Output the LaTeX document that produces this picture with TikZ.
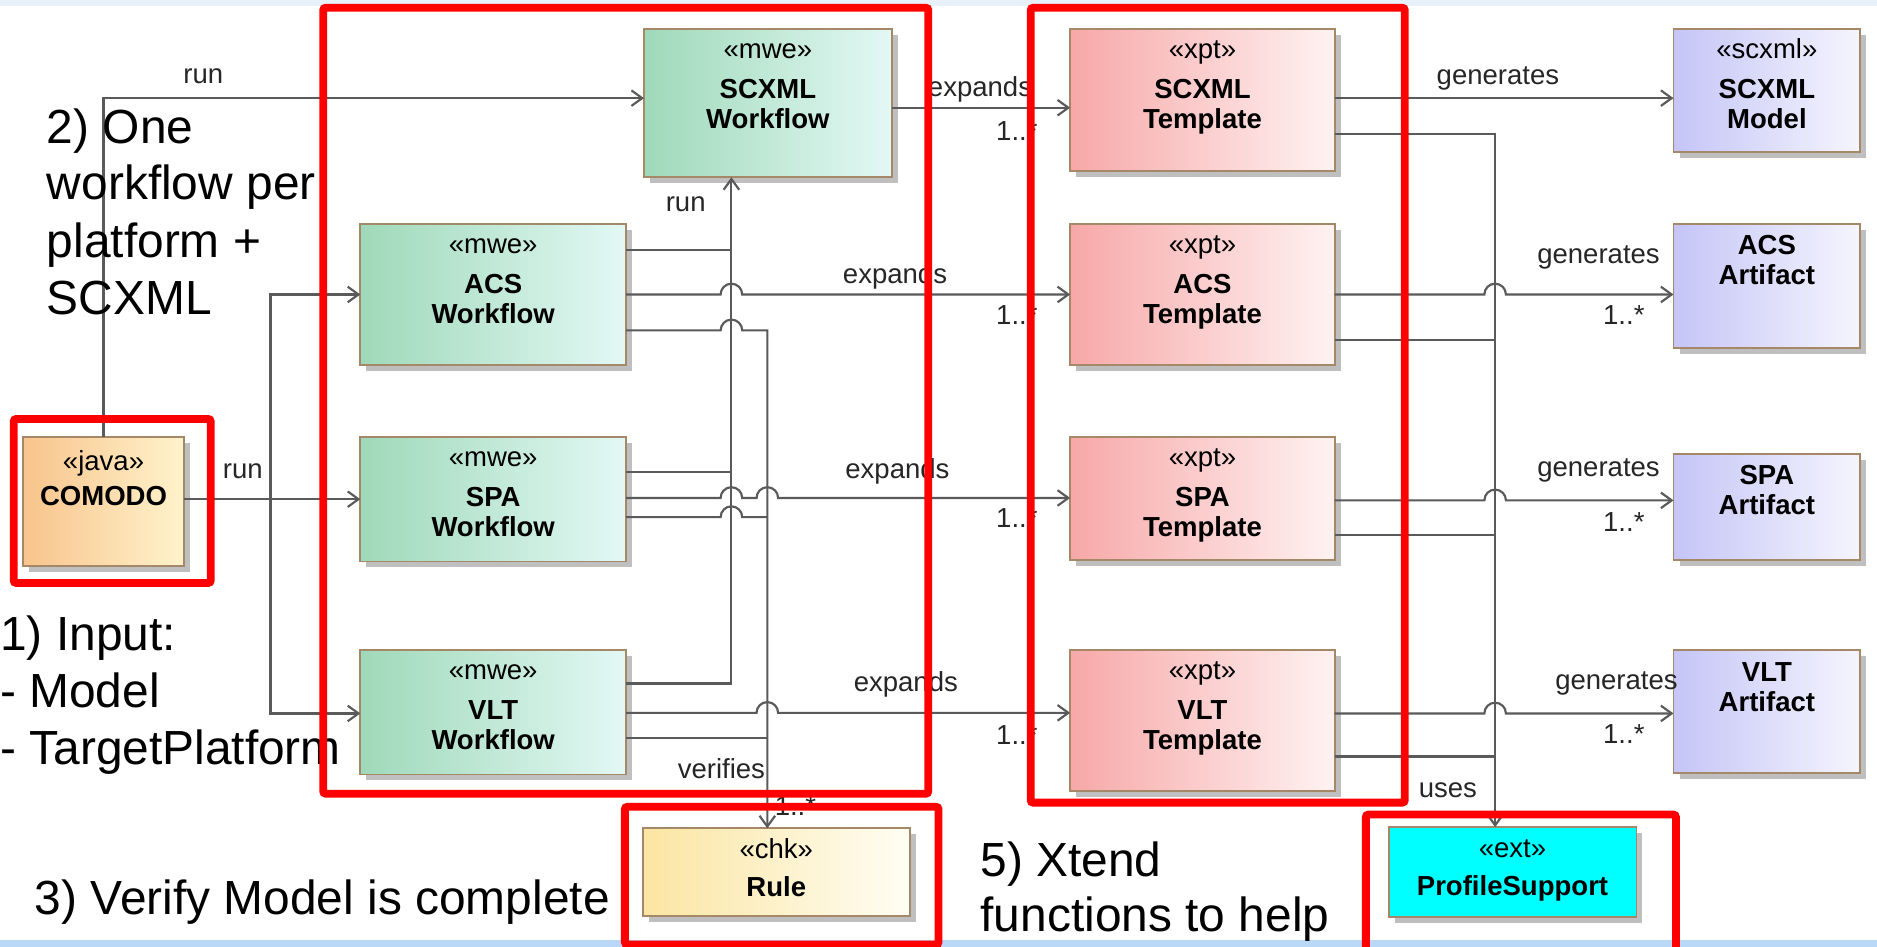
\documentclass[tikz,border=0pt]{standalone}
\usepackage{fontspec}
\setmainfont{Liberation Sans}
\usetikzlibrary{arrows.meta,shadows}

% fills of the element kinds
\definecolor{wfL}{HTML}{9FD9B9}
\definecolor{wfR}{HTML}{E3F8F5}
\definecolor{tpL}{HTML}{F7A8A8}
\definecolor{tpR}{HTML}{FFF2F2}
\definecolor{arL}{HTML}{C5C5F7}
\definecolor{arR}{HTML}{F5F5FE}
\definecolor{jvL}{HTML}{F8C48C}
\definecolor{jvR}{HTML}{FFF3CC}
\definecolor{ckL}{HTML}{FBE5A2}
\definecolor{ckR}{HTML}{FFFEF4}
\definecolor{psfill}{HTML}{00FFFF}
\definecolor{boxedge}{HTML}{A58868}
\definecolor{conncol}{HTML}{5A5A5A}
\definecolor{bandtop}{HTML}{E8F0FA}
\definecolor{bandbot}{HTML}{B9D8F7}
\definecolor{hilite}{HTML}{FF0000}

\tikzset{
  umlbox/.style={rectangle, draw=boxedge, line width=1.5pt, inner sep=0pt, outer sep=0pt,
    drop shadow={shadow xshift=5pt, shadow yshift=-5pt, fill=black, opacity=0.25}},
  wfbox/.style={left color=wfL, right color=wfR},
  tpbox/.style={left color=tpL, right color=tpR},
  arbox/.style={left color=arL, right color=arR},
  jvbox/.style={left color=jvL, right color=jvR},
  ckbox/.style={left color=ckL, right color=ckR},
  psbox/.style={fill=psfill},
  stereo/.style={font=\fontsize{23}{25}\selectfont, inner sep=0pt, anchor=base},
  uname/.style={font=\fontsize{23}{25}\selectfont\bfseries, inner sep=0pt, anchor=base},
  elabel/.style={font=\fontsize{23}{25}\selectfont, inner sep=0pt, anchor=base west, text=black!85},
  note/.style={font=\fontsize{40}{48}\selectfont, inner sep=0pt, anchor=base west},
  conn/.style={draw=conncol, line width=1.8pt},
  arr/.style={conn, -{Straight Barb[length=9pt,width=13pt]}},
  redbox/.style={draw=hilite, line width=6.5pt, rounded corners=2pt},
}

% box: name, left, top, right, bottom, kind
\newcommand{\umlbox}[6]{%
  \node[umlbox, #6, minimum width={(#4)-(#2)}, minimum height={(#5)-(#3)}]
    (#1) at ({((#2)+(#4))/2},{((#3)+(#5))/2}) {};}
% text line inside a box: box, tag, offset of baseline from top, style, text
\newcommand{\boxline}[5]{%
  \node[#4] (#1-#2) at ([yshift=-#3pt]#1.north) {#5};}

\begin{document}
\begin{tikzpicture}[x=1pt, y=-1pt]
\useasboundingbox (0,0) rectangle (1568,791);
\clip (0,0) rectangle (1568,791);

% slide background
\fill[white] (0,0) rectangle (1568,791);
\fill[bandtop] (0,0) rectangle (1568,5);
\fill[bandbot] (0,785) rectangle (1568,791);

% ---------- elements ----------
\umlbox{scxmlwf}{538}{24}{745}{148}{wfbox}
\umlbox{acswf}{301}{187}{523}{305}{wfbox}
\umlbox{spawf}{301}{365}{523}{469}{wfbox}
\umlbox{vltwf}{301}{543}{523}{647}{wfbox}
\umlbox{comodo}{19}{365}{154}{473}{jvbox}
\umlbox{rule}{537}{692}{760}{765}{ckbox}
\umlbox{scxmlt}{894}{24}{1115}{143}{tpbox}
\umlbox{acst}{894}{187}{1115}{305}{tpbox}
\umlbox{spat}{894}{365}{1115}{468}{tpbox}
\umlbox{vltt}{894}{543}{1115}{661}{tpbox}
\umlbox{scxmlm}{1398}{24}{1554}{127}{arbox}
\umlbox{acsa}{1398}{187}{1554}{291}{arbox}
\umlbox{spaa}{1398}{379}{1554}{468}{arbox}
\umlbox{vlta}{1398}{543}{1554}{646}{arbox}
\umlbox{prof}{1160}{691}{1367}{766}{psbox}

% ---------- connectors ----------
% COMODO runs the workflows
\draw[arr] (comodo.north) |- (scxmlwf.west |- 0,82);
\draw[arr] (comodo.east |- 0,417) -- (spawf.west |- 0,417);
\coordinate (fork) at (226,417);
\draw[arr] (fork) |- (acswf.west |- 0,246);
\draw[arr] (fork) |- (vltwf.west |- 0,596);

% platform workflows run the SCXML workflow
\coordinate (runA) at (611,209);
\coordinate (runS) at (611,394);
\draw[arr] (vltwf.east |- 0,571) -| (scxmlwf.south -| 611,0);
\draw[conn] (acswf.east |- 0,209) -- (runA);
\draw[conn] (spawf.east |- 0,394) -- (runS);

% workflows verify the rules
\coordinate (verS) at (641,432);
\coordinate (verV) at (641,616.5);
\draw[arr] (acswf.east |- 0,276) -- (602,276) arc[start angle=180, end angle=360, radius=9]
  -| (rule.north -| 641,0);
\draw[conn] (spawf.east |- 0,432) -- (602,432) arc[start angle=180, end angle=360, radius=9] -- (verS);
\draw[conn] (vltwf.east |- 0,616.5) -- (verV);

% workflows expand the templates
\draw[arr] (scxmlwf.east |- 0,90) -- (scxmlt.west |- 0,90);
\draw[arr] (acswf.east |- 0,246) -- (602,246) arc[start angle=180, end angle=360, radius=9]
  -- (acst.west |- 0,246);
\draw[arr] (spawf.east |- 0,416) -- (602,416) arc[start angle=180, end angle=360, radius=9]
  -- (632,416) arc[start angle=180, end angle=360, radius=9] -- (spat.west |- 0,416);
\draw[arr] (vltwf.east |- 0,595.5) -- (632,595.5) arc[start angle=180, end angle=360, radius=9]
  -- (vltt.west |- 0,595.5);

% templates generate the artifacts
\draw[arr] (scxmlt.east |- 0,82) -- (scxmlm.west |- 0,82);
\draw[arr] (acst.east |- 0,246) -- (1240,246) arc[start angle=180, end angle=360, radius=9]
  -- (acsa.west |- 0,246);
\draw[arr] (spat.east |- 0,418) -- (1240,418) arc[start angle=180, end angle=360, radius=9]
  -- (spaa.west |- 0,418);
\draw[arr] (vltt.east |- 0,596) -- (1240,596) arc[start angle=180, end angle=360, radius=9]
  -- (vlta.west |- 0,596);

% templates use the profile support functions
\coordinate (useA) at (1249,284);
\coordinate (useS) at (1249,447);
\coordinate (useV) at (1249,632);
\draw[arr] (scxmlt.east |- 0,112) -| (prof.north -| 1249,0);
\draw[conn] (acst.east |- 0,284) -- (useA);
\draw[conn] (spat.east |- 0,447) -- (useS);
\draw[conn] (vltt.east |- 0,632) -- (useV);

% ---------- element texts ----------
\boxline{scxmlwf}{s}{25}{stereo}{«mwe»}
\boxline{scxmlwf}{a}{58}{uname}{SCXML}
\boxline{scxmlwf}{b}{83}{uname}{Workflow}
\boxline{acswf}{s}{25}{stereo}{«mwe»}
\boxline{acswf}{a}{58}{uname}{ACS}
\boxline{acswf}{b}{83}{uname}{Workflow}
\boxline{spawf}{s}{25}{stereo}{«mwe»}
\boxline{spawf}{a}{58}{uname}{SPA}
\boxline{spawf}{b}{83}{uname}{Workflow}
\boxline{vltwf}{s}{25}{stereo}{«mwe»}
\boxline{vltwf}{a}{58}{uname}{VLT}
\boxline{vltwf}{b}{83}{uname}{Workflow}
\boxline{comodo}{s}{28}{stereo}{«java»}
\boxline{comodo}{a}{57}{uname}{COMODO}
\boxline{rule}{s}{25}{stereo}{«chk»}
\boxline{rule}{a}{57}{uname}{Rule}
\boxline{scxmlt}{s}{25}{stereo}{«xpt»}
\boxline{scxmlt}{a}{58}{uname}{SCXML}
\boxline{scxmlt}{b}{83}{uname}{Template}
\boxline{acst}{s}{25}{stereo}{«xpt»}
\boxline{acst}{a}{58}{uname}{ACS}
\boxline{acst}{b}{83}{uname}{Template}
\boxline{spat}{s}{25}{stereo}{«xpt»}
\boxline{spat}{a}{58}{uname}{SPA}
\boxline{spat}{b}{83}{uname}{Template}
\boxline{vltt}{s}{25}{stereo}{«xpt»}
\boxline{vltt}{a}{58}{uname}{VLT}
\boxline{vltt}{b}{83}{uname}{Template}
\boxline{scxmlm}{s}{25}{stereo}{«scxml»}
\boxline{scxmlm}{a}{58}{uname}{SCXML}
\boxline{scxmlm}{b}{83}{uname}{Model}
\boxline{acsa}{a}{26}{uname}{ACS}
\boxline{acsa}{b}{51}{uname}{Artifact}
\boxline{spaa}{a}{26}{uname}{SPA}
\boxline{spaa}{b}{51}{uname}{Artifact}
\boxline{vlta}{a}{26}{uname}{VLT}
\boxline{vlta}{b}{51}{uname}{Artifact}
\boxline{prof}{s}{25}{stereo}{«ext»}
\boxline{prof}{a}{57}{uname}{ProfileSupport}

% ---------- connector labels ----------
\node[elabel] (lrun1) at (153,70) {run};
\node[elabel] (lrun2) at (186,400) {run};
\node[elabel] (lrun3) at (556,177) {run};
\node[elabel] (lver) at (566,650) {verifies};
\node[elabel] (lmver) at (647,681) {1..*};
\node[elabel] (lexp1) at (775,81) {expands};
\node[elabel] (lmexp1) at (832,117) {1..*};
\node[elabel] (lexp2) at (704,237) {expands};
\node[elabel] (lmexp2) at (832,271) {1..*};
\node[elabel] (lexp3) at (706,400) {expands};
\node[elabel] (lmexp3) at (832,441) {1..*};
\node[elabel] (lexp4) at (713,578) {expands};
\node[elabel] (lmexp4) at (832,622) {1..*};
\node[elabel] (lgen1) at (1200,71) {generates};
\node[elabel] (lgen2) at (1284,220) {generates};
\node[elabel] (lmgen2) at (1339,271) {1..*};
\node[elabel] (lgen3) at (1284,398) {generates};
\node[elabel] (lmgen3) at (1339,444) {1..*};
\node[elabel] (lgen4) at (1299,576) {generates};
\node[elabel] (lmgen4) at (1339,621) {1..*};
\node[elabel] (luses) at (1185,666) {uses};

% ---------- slide notes ----------
\node[note] (n2a) at (39,120) {2) One};
\node[note] (n2b) at (39,167) {workflow per};
\node[note] (n2c) at (39,215) {platform +};
\node[note] (n2d) at (39,263) {SCXML};
\node[note] (n1a) at (0,543) {1) Input:};
\node[note] (n1b) at (0,591) {- Model};
\node[note] (n1c) at (0,639) {- TargetPlatform};
\node[note] (n3a) at (29,764) {3) Verify Model is complete};
\node[note] (n5a) at (819,732) {5) Xtend};
\node[note] (n5b) at (819,778) {functions to help};

% ---------- highlight frames ----------
\draw[redbox] (270,6.5) rectangle (775.5,663);
\draw[redbox] (861,6.5) rectangle (1173.5,670.5);
\draw[redbox] (11.5,350) rectangle (176,487);
\draw[redbox] (522,674) rectangle (784,789);
\draw[redbox] (1141,680.5) rectangle (1400,800);
\end{tikzpicture}
\end{document}
